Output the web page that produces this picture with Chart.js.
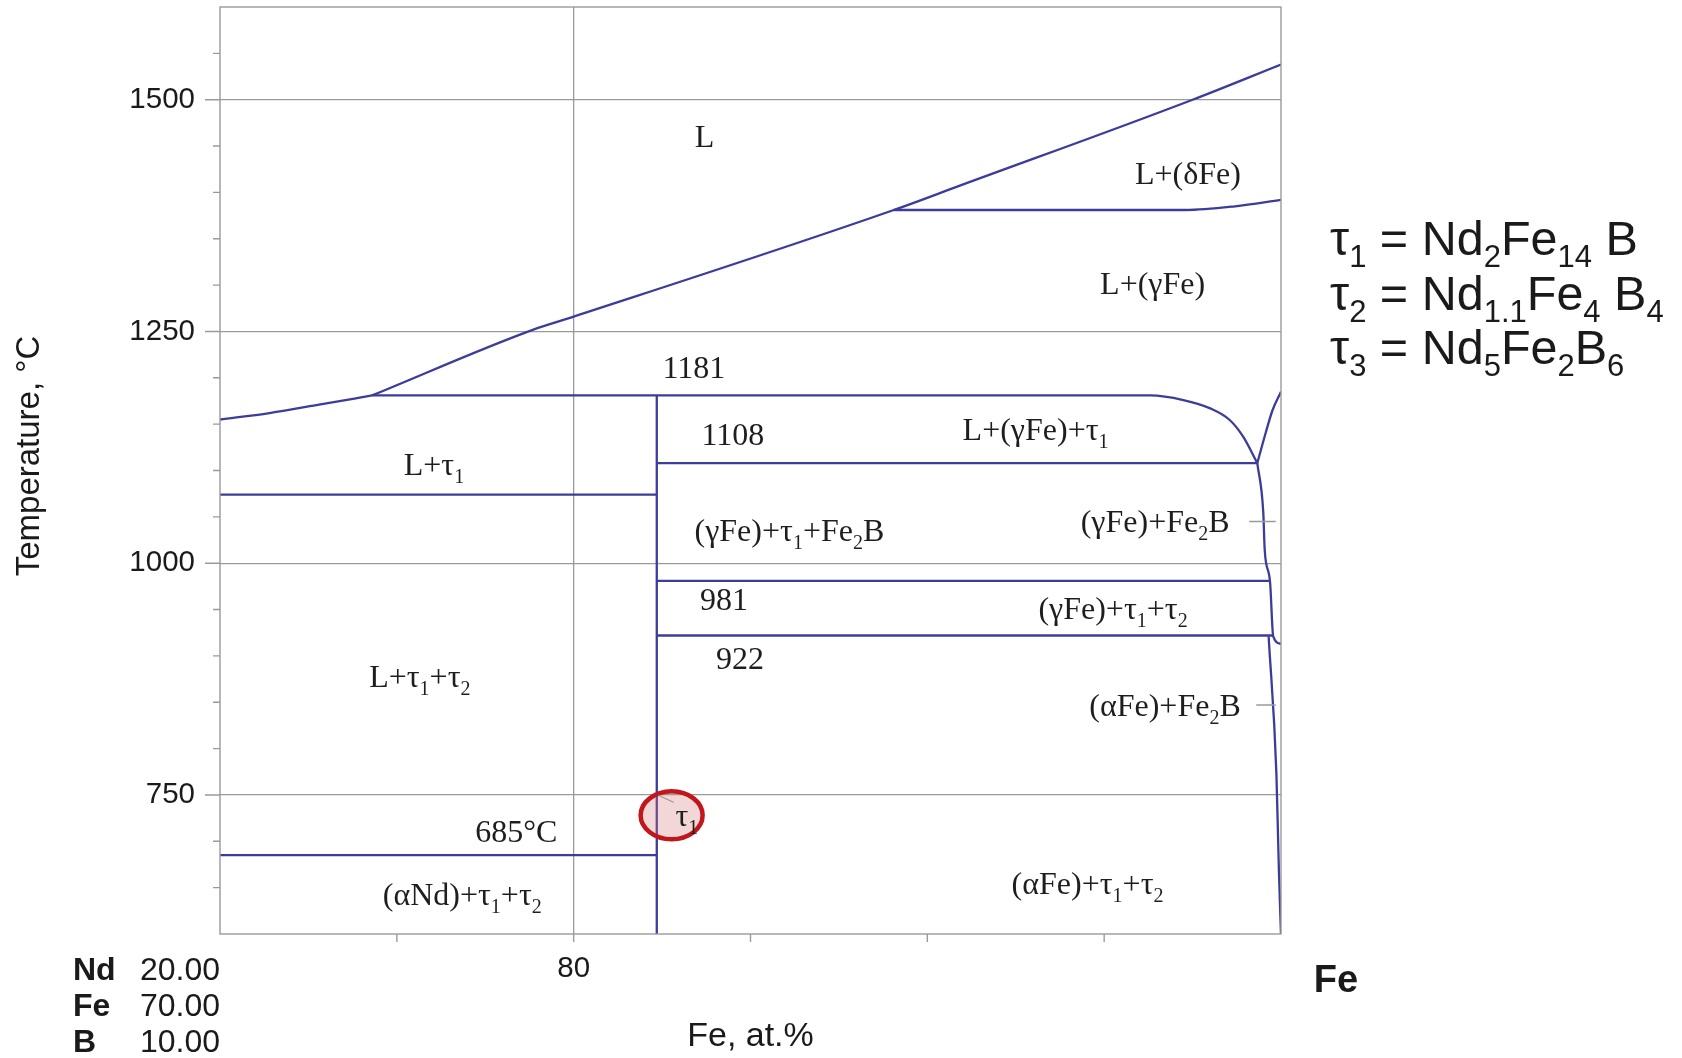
<!DOCTYPE html>
<html>
<head>
<meta charset="utf-8">
<title>Nd-Fe-B isopleth</title>
<script src="https://cdn.jsdelivr.net/npm/chart.js@4.4.1/dist/chart.umd.min.js"></script>
<style>
  html, body { margin: 0; padding: 0; background: #fff; }
  canvas { display: block; }
</style>
</head>
<body>
<canvas id="chart" width="1682" height="1058"></canvas>
<script>
// axis ranges and tick labels
const tempMin = 600, tempMax = 1600, tempStep = 50;
const feMin = 70, feMax = 100, feStep = 5;
const tempLabels = [750, 1000, 1250, 1500];
const feLabels = [80];

// phase boundaries (Fe, at.% / temperature, °C)
const liquidusLowFe = [70, 71.4, 72.8, 74.3];
const liquidusLowT  = [1155, 1162, 1171, 1181];
const liquidusHighFe = [74.3, 78.86, 80, 89.05, 90.9, 97.5, 100];
const liquidusHighT  = [1181, 1252, 1266, 1381, 1407, 1500, 1538];

const deltaFe = [89.05, 97.3, 98.7, 100];
const deltaT  = [1381, 1381, 1385, 1392];

const line1181Fe = [74.3, 96.3, 97.24, 98.0, 98.55, 98.93, 99.33];
const line1181T  = [1181, 1181, 1176, 1167, 1154.5, 1136.5, 1108];

const gammaSolidusFe = [99.33, 99.57, 99.76, 100];
const gammaSolidusT  = [1108, 1141, 1165, 1185];

const gammaSolvusFe = [99.33, 99.5, 99.54, 99.69, 99.78, 100];
const gammaSolvusT  = [1108, 1054, 1014, 980, 921, 913];

const alphaSolvusFe = [99.65, 99.87, 99.94, 100];
const alphaSolvusT  = [921, 773, 669, 600];

const tau1Fe = [82.35, 82.35];
const tau1T  = [600, 1181];

// invariant horizontals: [Fe from, Fe to, temperature]
const isothermFrom = [82.35, 70, 82.35, 82.35, 70];
const isothermTo   = [99.33, 82.35, 99.69, 99.78, 82.35];
const isothermT    = [1108, 1074, 981, 922, 685];

// region labels
const regionText = ['L', 'L+(δFe)', 'L+(γFe)', '1181', '1108', 'L+(γFe)+τ_{1}', 'L+τ_{1}',
  '(γFe)+τ_{1}+Fe_{2}B', '(γFe)+Fe_{2}B', '981', '(γFe)+τ_{1}+τ_{2}', '922', 'L+τ_{1}+τ_{2}',
  '(αFe)+Fe_{2}B', '685°C', '(αNd)+τ_{1}+τ_{2}', '(αFe)+τ_{1}+τ_{2}', 'τ_{1}'];
const regionFe = [83.7, 97.37, 96.37, 83.4, 84.5, 93.06, 76.05, 86.1, 96.44, 84.25, 95.25,
  84.7, 75.65, 96.72, 78.38, 76.85, 94.53, 83.2];
const regionT = [1461, 1421, 1302, 1212, 1139, 1145, 1107, 1036, 1045, 961, 952, 898, 878,
  847, 711, 643, 655, 728];

// leader lines next to the narrow Fe-rich fields
const leaderFrom = [99.1, 99.3];
const leaderTo   = [99.85, 99.85];
const leaderT    = [1045, 847];

// highlighted tau1 point
const tau1MarkFe = 82.77, tau1MarkT = 728;

// start composition and phase formulas
const startNames = ['Nd', 'Fe', 'B'];
const startValues = ['20.00', '70.00', '10.00'];
const formulas = ['τ_{1} = Nd_{2}Fe_{14} B', 'τ_{2} = Nd_{1.1}Fe_{4} B_{4}', 'τ_{3} = Nd_{5}Fe_{2}B_{6}'];

const lineColor = '#3c3c9a';
const gridColor = '#9a9a9a';
const serif = '"Liberation Serif", "Times New Roman", serif';
const sans = '"Liberation Sans", Arial, sans-serif';

function toPoints(xs, ys) {
    return xs.map((x, i) => ({ x: x, y: ys[i] }));
}

function boundary(xs, ys, curved) {
    return {
        data: toPoints(xs, ys),
        showLine: true,
        borderColor: lineColor,
        borderWidth: 2.3,
        pointRadius: 0,
        fill: false,
        cubicInterpolationMode: curved ? 'monotone' : 'default',
        tension: 0
    };
}

const datasets = [
    boundary(liquidusLowFe, liquidusLowT, true),
    boundary(liquidusHighFe, liquidusHighT, true),
    boundary(deltaFe, deltaT, true),
    boundary(line1181Fe, line1181T, true),
    boundary(gammaSolidusFe, gammaSolidusT, true),
    boundary(gammaSolvusFe, gammaSolvusT, true),
    boundary(alphaSolvusFe, alphaSolvusT, true),
    boundary(tau1Fe, tau1T, false)
];
isothermT.forEach((t, i) => {
    datasets.push(boundary([isothermFrom[i], isothermTo[i]], [t, t], false));
});

// split "_{...}" into subscript pieces
function richParts(str) {
    const parts = [];
    const re = /_\{([^}]*)\}/g;
    let last = 0, m;
    while ((m = re.exec(str))) {
        if (m.index > last) parts.push({ t: str.slice(last, m.index), sub: false });
        parts.push({ t: m[1], sub: true });
        last = re.lastIndex;
    }
    if (last < str.length) parts.push({ t: str.slice(last), sub: false });
    return parts;
}

function drawRich(ctx, str, x, y, size, family, align) {
    const parts = richParts(str);
    const mainFont = size + 'px ' + family;
    const subFont = Math.round(size * 0.64) + 'px ' + family;
    let w = 0;
    parts.forEach(p => {
        ctx.font = p.sub ? subFont : mainFont;
        p.w = ctx.measureText(p.t).width;
        w += p.w;
    });
    let cx = align === 'center' ? x - w / 2 : (align === 'right' ? x - w : x);
    ctx.textAlign = 'left';
    ctx.textBaseline = 'alphabetic';
    parts.forEach(p => {
        ctx.font = p.sub ? subFont : mainFont;
        ctx.fillText(p.t, cx, p.sub ? y + size * 0.25 : y);
        cx += p.w;
    });
}

const decorations = {
    id: 'decorations',
    afterDraw(chart) {
        const ctx = chart.ctx;
        const xs = chart.scales.x, ys = chart.scales.y;
        const area = chart.chartArea;
        ctx.save();

        // frame and tick marks
        ctx.strokeStyle = gridColor;
        ctx.lineWidth = 1.4;
        ctx.strokeRect(area.left, area.top, area.right - area.left, area.bottom - area.top);
        ctx.beginPath();
        ys.ticks.forEach(t => {
            if (t.value <= tempMin || t.value >= tempMax) return;
            const py = ys.getPixelForValue(t.value);
            const len = tempLabels.includes(t.value) ? 15 : 7;
            ctx.moveTo(area.left - len, py);
            ctx.lineTo(area.left, py);
        });
        xs.ticks.forEach(t => {
            if (t.value <= feMin || t.value >= feMax) return;
            const px = xs.getPixelForValue(t.value);
            ctx.moveTo(px, area.bottom);
            ctx.lineTo(px, area.bottom + 8);
        });
        leaderT.forEach((t, i) => {
            const py = ys.getPixelForValue(t);
            ctx.moveTo(xs.getPixelForValue(leaderFrom[i]), py);
            ctx.lineTo(xs.getPixelForValue(leaderTo[i]), py);
        });
        ctx.stroke();

        // tau1 highlight
        const mx = xs.getPixelForValue(tau1MarkFe), my = ys.getPixelForValue(tau1MarkT);
        ctx.beginPath();
        ctx.ellipse(mx, my, 31, 24, 0, 0, Math.PI * 2);
        ctx.fillStyle = 'rgba(215, 120, 120, 0.3)';
        ctx.fill();
        ctx.strokeStyle = '#c0171d';
        ctx.lineWidth = 4.5;
        ctx.stroke();
        ctx.beginPath();
        ctx.strokeStyle = '#8a8a8a';
        ctx.lineWidth = 1;
        ctx.moveTo(mx - 13, my - 20);
        ctx.lineTo(mx + 2, my - 13);
        ctx.stroke();

        // region labels
        ctx.fillStyle = '#1e1e1e';
        regionText.forEach((txt, i) => {
            const px = xs.getPixelForValue(regionFe[i]);
            const py = ys.getPixelForValue(regionT[i]);
            drawRich(ctx, txt, px, py + 11, 32, serif, 'center');
        });

        // axis titles
        ctx.fillStyle = '#1a1a1a';
        ctx.font = '34px ' + sans;
        ctx.textAlign = 'center';
        ctx.textBaseline = 'middle';
        ctx.fillText('Fe, at.%', (area.left + area.right) / 2, 1037);
        ctx.save();
        ctx.translate(30, 456);
        ctx.rotate(-Math.PI / 2);
        ctx.font = '33px ' + sans;
        ctx.fillText('Temperature, °C', 0, 0);
        ctx.restore();

        // start composition block and end member
        startNames.forEach((name, i) => {
            const py = 971 + i * 36;
            ctx.font = 'bold 32px ' + sans;
            ctx.textAlign = 'left';
            ctx.fillText(name, 73, py);
            ctx.font = '32px ' + sans;
            ctx.textAlign = 'right';
            ctx.fillText(startValues[i], area.left, py);
        });
        ctx.font = 'bold 38px ' + sans;
        ctx.textAlign = 'center';
        ctx.fillText('Fe', 1336, 982);

        // phase formulas
        formulas.forEach((f, i) => {
            drawRich(ctx, f, 1330, 255 + i * 54.5, 48.5, sans, 'left');
        });
        ctx.restore();
    }
};

new Chart(document.getElementById('chart'), {
    type: 'scatter',
    data: { datasets: datasets },
    options: {
        responsive: false,
        animation: false,
        devicePixelRatio: 1,
        layout: { padding: { left: 0, right: 401, top: 7, bottom: 0 } },
        plugins: { legend: { display: false }, tooltip: { enabled: false } },
        scales: {
            x: {
                type: 'linear',
                min: feMin,
                max: feMax,
                afterFit: scale => {
                    scale.height = 124;
                    scale.paddingLeft = 0;
                    scale.paddingRight = 0;
                },
                border: { display: false },
                grid: {
                    drawTicks: false,
                    lineWidth: 1.3,
                    color: c => (c.tick && feLabels.includes(c.tick.value)) ? gridColor : 'rgba(0,0,0,0)'
                },
                ticks: {
                    stepSize: feStep,
                    autoSkip: false,
                    maxRotation: 0,
                    padding: 17,
                    color: '#1a1a1a',
                    font: { family: sans, size: 29.5 },
                    callback: v => feLabels.includes(v) ? String(v) : ''
                }
            },
            y: {
                type: 'linear',
                min: tempMin,
                max: tempMax,
                afterFit: scale => {
                    scale.width = 220;
                    scale.paddingTop = 0;
                    scale.paddingBottom = 0;
                },
                border: { display: false },
                grid: {
                    drawTicks: false,
                    lineWidth: 1.3,
                    color: c => (c.tick && tempLabels.includes(c.tick.value)) ? gridColor : 'rgba(0,0,0,0)'
                },
                ticks: {
                    stepSize: tempStep,
                    autoSkip: false,
                    padding: 25,
                    color: '#1a1a1a',
                    font: { family: sans, size: 29.5 },
                    callback: v => tempLabels.includes(v) ? String(v) : ''
                }
            }
        }
    },
    plugins: [decorations]
});
</script>
</body>
</html>
